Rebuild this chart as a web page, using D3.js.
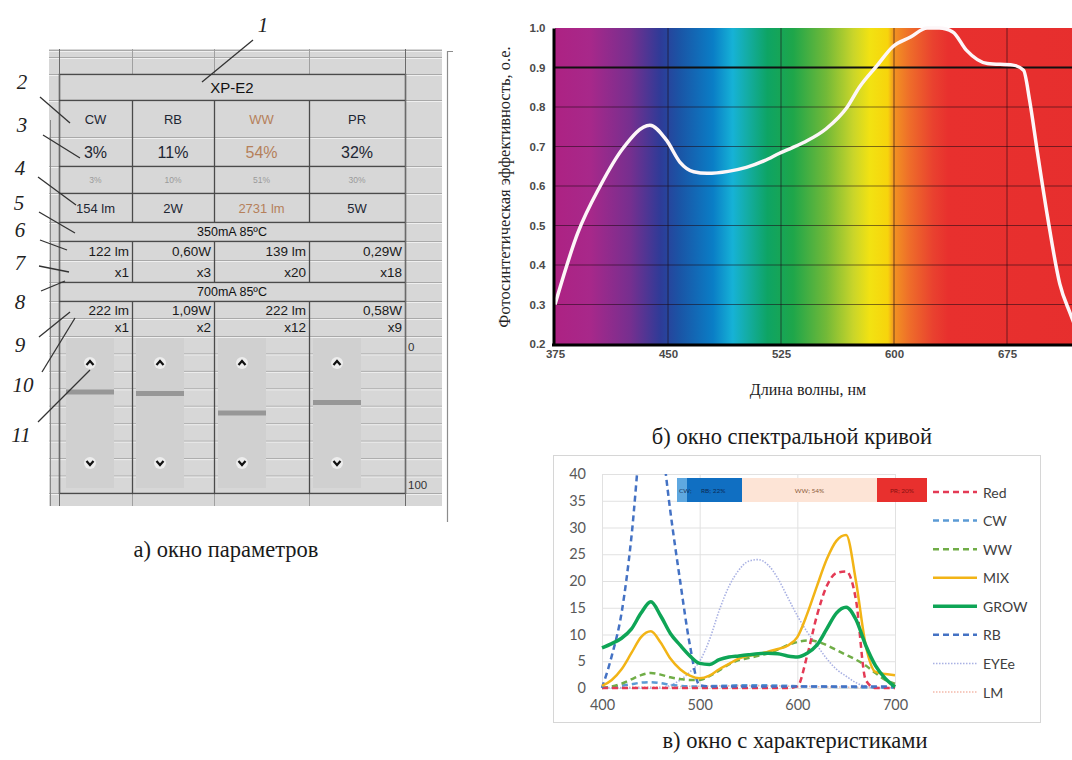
<!DOCTYPE html>
<html>
<head>
<meta charset="utf-8">
<script src="https://cdn.jsdelivr.net/npm/d3@7"></script>
<style>
  body { margin: 0; background: #fff; }
  svg { display: block; }
</style>
</head>
<body>
<div id="chart"><svg></svg></div>
<script>
// ---------- panel a: parameter window ----------
var ledNames = ["CW", "RB", "WW", "PR"];
var sharePct = ["3%", "11%", "54%", "32%"];
var shareSmall = ["3%", "10%", "51%", "30%"];
var totalOut = ["154 lm", "2W", "2731 lm", "5W"];
var mode350 = "350mA 85ºC";
var out350 = ["122 lm", "0,60W", "139 lm", "0,29W"];
var count350 = ["x1", "x3", "x20", "x18"];
var mode700 = "700mA 85ºC";
var out700 = ["222 lm", "1,09W", "222 lm", "0,58W"];
var count700 = ["x1", "x2", "x12", "x9"];
var sliderPos = [36, 37, 50, 43]; // 0..100 slider scale
var sliderTicks = ["0", "100"];
var calloutText = ["1", "2", "3", "4", "5", "6", "7", "8", "9", "10", "11"];

// ---------- panel b: spectral curve ----------
var specWl = [375, 390, 405, 420, 438, 449, 458, 467, 476, 490, 502, 514, 524, 540, 555, 569, 577, 589, 599, 611, 622, 630, 639, 648, 662, 679, 686, 690, 695, 702, 710, 717, 725];
var specVal = [0.30, 0.48, 0.60, 0.695, 0.754, 0.716, 0.66, 0.636, 0.632, 0.637, 0.647, 0.664, 0.683, 0.71, 0.745, 0.80, 0.85, 0.906, 0.952, 0.977, 1.0, 1.0, 0.99, 0.944, 0.91, 0.906, 0.893, 0.817, 0.69, 0.52, 0.353, 0.277, 0.2];
var specXTicks = [375, 450, 525, 600, 675];
var specYTicks = [0.2, 0.3, 0.4, 0.5, 0.6, 0.7, 0.8, 0.9, 1.0];
var bandWl = [375, 398, 425, 445, 458, 480, 493, 502, 516, 533, 555, 573, 584, 596, 600, 611, 626, 636, 750];
var bandColor = ["#ad2283", "#a8288a", "#762f8f", "#2e3b97", "#1a55a6", "#0a7ec6", "#16b2d6", "#14ada8", "#0ea464", "#1ea64a", "#72b938", "#c9d52a", "#f2e212", "#f7d40c", "#f29322", "#ee6b2a", "#e9412f", "#e8302e", "#e62e2e"];

// ---------- panel c: characteristics ----------
var wl = [400, 410, 420, 430, 440, 450, 460, 470, 480, 490, 500, 510, 520, 530, 540, 550, 560, 570, 580, 590, 600, 610, 620, 630, 640, 650, 660, 670, 680, 690, 700];
var redVals = [0, 0, 0, 0, 0, 0, 0, 0, 0, 0, 0, 0, 0, 0, 0, 0, 0, 0, 0, 0, 0.3, 6, 13.5, 19, 21.5, 21.8, 16.5, 1.5, 0, 0, 0];
var cwVals = [0.1, 0.2, 0.4, 0.7, 1.0, 1.1, 0.9, 0.6, 0.4, 0.3, 0.3, 0.35, 0.4, 0.45, 0.5, 0.5, 0.5, 0.5, 0.45, 0.4, 0.35, 0.3, 0.3, 0.25, 0.2, 0.2, 0.15, 0.1, 0.1, 0.05, 0.05];
var wwVals = [0, 0.3, 0.8, 1.6, 2.4, 2.8, 2.5, 2.0, 1.7, 1.5, 1.5, 2.2, 3.3, 4.4, 5.2, 5.6, 6.0, 6.5, 7.2, 8.0, 8.6, 8.9, 8.7, 8.0, 7.1, 6.2, 5.3, 4.2, 2.8, 1.5, 0.8];
var mixVals = [0.4, 1.5, 3.5, 6.5, 9.5, 10.6, 8.5, 5.5, 3.5, 2.3, 1.8, 2.3, 3.5, 4.5, 5.5, 6.0, 6.3, 6.8, 7.3, 7.9, 9.5, 13.8, 19, 24, 27.5, 28.6, 20, 8, 3, 2.6, 2.4];
var growVals = [7.5, 8.3, 9.3, 11, 14, 16.1, 13.5, 10.2, 8, 6, 4.6, 4.4, 5.3, 5.8, 6.0, 6.2, 6.4, 6.5, 6.4, 6.0, 5.8, 6.5, 8.0, 11, 14, 15.1, 12.8, 8, 4.2, 1.8, 0.2];
var rbVals = [0, 6, 14, 28, 48, 60, 48, 33, 20, 8, 0.5, 0.3, 0.3, 0.3, 0.3, 0.3, 0.3, 0.3, 0.3, 0.3, 0.3, 0.3, 0.3, 0.3, 0.3, 0.3, 0.3, 0.3, 0.3, 0.3, 0.3];
var eyeVals = [0, 0, 0, 0, 0, 0, 0, 0.5, 1.5, 3, 5, 9, 14.5, 19, 22, 23.7, 24, 23, 20.5, 17, 13.5, 10.5, 8, 5.5, 3.5, 2.2, 1, 0.3, 0, 0, 0];
var lmVals = [0.1, 0.1, 0.1, 0.15, 0.2, 0.2, 0.2, 0.2, 0.25, 0.3, 0.3, 0.35, 0.4, 0.4, 0.45, 0.45, 0.45, 0.4, 0.4, 0.35, 0.3, 0.3, 0.25, 0.2, 0.2, 0.15, 0.1, 0.1, 0.1, 0.05, 0.05];
var mixXTicks = [400, 500, 600, 700];
var mixYTicks = [0, 5, 10, 15, 20, 25, 30, 35, 40];
var barShares = [4, 22, 54, 20];
var barLabels = ["CW; 4%", "RB; 22%", "WW; 54%", "PR; 20%"];

var captions = ["а) окно параметров", "б) окно спектральной кривой", "в) окно с характеристиками"];

// ================================================================
var svg = d3.select("#chart > svg").attr("width", 1072).attr("height", 760);
svg.append("rect").attr("width", 1072).attr("height", 760).attr("fill", "#fff");

var sans = "'Liberation Sans', Arial, sans-serif";
var serif = "'Liberation Serif', 'Times New Roman', serif";

// ---------------- panel a ----------------
var gA = svg.append("g").style("font-family", sans);
var colX = [59, 132, 214, 309, 405]; // column borders
var bg = { x0: 49, x1: 442, y0: 49, y1: 506 };
var tableTop = 74, tableBottom = 493;
var rowLines = [50, 57, 74, 100, 137, 166, 193, 222, 241, 260, 282, 301, 318, 336];
var sliderTop = 336;
var sliderRow = (tableBottom - sliderTop) / 9;

gA.append("rect")
  .attr("x", bg.x0).attr("y", bg.y0)
  .attr("width", bg.x1 - bg.x0).attr("height", bg.y1 - bg.y0)
  .attr("fill", "#d7d7d7");

var allRows = rowLines.concat(d3.range(1, 10).map(function(i) { return sliderTop + i * sliderRow; }));
gA.selectAll(".hl").data(allRows).enter().append("line")
  .attr("x1", bg.x0).attr("x2", bg.x1)
  .attr("y1", function(d) { return d + 0.5; }).attr("y2", function(d) { return d + 0.5; })
  .attr("stroke", "#a9a9a9");
gA.selectAll(".hw").data(allRows).enter().append("line")
  .attr("x1", bg.x0).attr("x2", bg.x1)
  .attr("y1", function(d) { return d + 1.5; }).attr("y2", function(d) { return d + 1.5; })
  .attr("stroke", "#efefef");

// light verticals in the margins above / below the table
colX.forEach(function(x, i) {
  gA.append("line").attr("x1", x + 0.5).attr("x2", x + 0.5).attr("y1", bg.y0).attr("y2", tableTop)
    .attr("stroke", "#a0a0a0");
  gA.append("line").attr("x1", x + 0.5).attr("x2", x + 0.5).attr("y1", tableBottom).attr("y2", bg.y1)
    .attr("stroke", "#a0a0a0");
});
gA.append("line").attr("x1", 50.5).attr("x2", 50.5).attr("y1", 120).attr("y2", bg.y1).attr("stroke", "#888");

// sliders
var sliderY = d3.scaleLinear().domain([0, 100]).range([338, 488]);
var sliders = gA.selectAll(".slider").data(sliderPos).enter().append("g");
sliders.append("rect")
  .attr("x", function(d, i) { return colX[i] + (i === 0 ? 7 : 4); })
  .attr("y", sliderY(0)).attr("width", 48).attr("height", sliderY(100) - sliderY(0))
  .attr("fill", "#d0d0d0");
sliders.append("rect")
  .attr("x", function(d, i) { return colX[i] + (i === 0 ? 7 : 4); })
  .attr("y", function(d) { return sliderY(d) - 2.5; })
  .attr("width", 48).attr("height", 5)
  .attr("fill", "#979797");
[25, -25].forEach(function(off, k) {
  sliders.append("circle")
    .attr("cx", function(d, i) { return colX[i] + (i === 0 ? 7 : 4) + 24; })
    .attr("cy", off > 0 ? sliderY(0) + off : sliderY(100) + off)
    .attr("r", 6).attr("fill", "#f4f4f4").attr("opacity", 0.8);
  sliders.append("path")
    .attr("d", function(d, i) {
      var cx = colX[i] + (i === 0 ? 7 : 4) + 24;
      var cy = off > 0 ? sliderY(0) + off : sliderY(100) + off;
      var s = k === 0 ? 1 : -1;
      return "M" + (cx - 3.5) + "," + (cy + 2 * s) + "L" + cx + "," + (cy - 2 * s) + "L" + (cx + 3.5) + "," + (cy + 2 * s);
    })
    .attr("fill", "none").attr("stroke", "#111").attr("stroke-width", 2.2);
});

// table borders
gA.append("rect").attr("x", colX[0] + 0.5).attr("y", tableTop + 0.5)
  .attr("width", colX[4] - colX[0]).attr("height", tableBottom - tableTop)
  .attr("fill", "none").attr("stroke", "#4a4a4a").attr("stroke-width", 1.5);
gA.append("line").attr("x1", colX[4] + 0.5).attr("x2", colX[4] + 0.5).attr("y1", bg.y0).attr("y2", bg.y1)
  .attr("stroke", "#6a6a6a");
gA.append("line").attr("x1", colX[0] + 0.5).attr("x2", colX[0] + 0.5).attr("y1", bg.y0).attr("y2", bg.y1)
  .attr("stroke", "#6a6a6a");
[100, 166, 193, 222, 241, 282, 301].forEach(function(y) {
  gA.append("line").attr("x1", colX[0]).attr("x2", colX[4]).attr("y1", y + 0.5).attr("y2", y + 0.5)
    .attr("stroke", "#4a4a4a").attr("stroke-width", 1.3);
});
[[100, 222], [241, 282], [301, tableBottom]].forEach(function(seg) {
  colX.slice(1, 4).forEach(function(x) {
    gA.append("line").attr("x1", x + 0.5).attr("x2", x + 0.5).attr("y1", seg[0]).attr("y2", seg[1])
      .attr("stroke", "#4a4a4a").attr("stroke-width", 1.3);
  });
});

// table texts
var brown = "#b5805a", ink = "#1d2633";
function rowText(values, cy, size, align, colorFn) {
  gA.selectAll(null).data(values).enter().append("text")
    .attr("x", function(d, i) { return align === "middle" ? (colX[i] + colX[i + 1]) / 2 : colX[i + 1] - 3; })
    .attr("y", cy)
    .attr("text-anchor", align === "middle" ? "middle" : "end")
    .attr("dominant-baseline", "central")
    .style("font-size", size + "px")
    .attr("fill", function(d, i) { return colorFn(i); })
    .text(function(d) { return d; });
}
function spanText(t, cy, size) {
  gA.append("text").attr("x", (colX[0] + colX[4]) / 2).attr("y", cy)
    .attr("text-anchor", "middle").attr("dominant-baseline", "central")
    .style("font-size", size + "px").attr("fill", "#111").text(t);
}
spanText("XP-E2", 87, 15);
rowText(ledNames, 119, 13, "middle", function(i) { return i === 2 ? brown : ink; });
rowText(sharePct, 152, 16, "middle", function(i) { return i === 2 ? brown : ink; });
rowText(shareSmall, 180, 8.5, "middle", function() { return "#9a9a9a"; });
rowText(totalOut, 208, 13, "middle", function(i) { return i === 2 ? brown : ink; });
spanText(mode350, 232, 12.5);
rowText(out350, 251, 13.5, "end", function() { return "#1a1a1a"; });
rowText(count350, 272, 13.5, "end", function() { return "#1a1a1a"; });
spanText(mode700, 291.5, 12.5);
rowText(out700, 310, 13.5, "end", function() { return "#1a1a1a"; });
rowText(count700, 327, 13.5, "end", function() { return "#1a1a1a"; });

gA.selectAll(".stick").data(sliderTicks).enter().append("text")
  .attr("x", 408).attr("y", function(d) { return sliderY(+d) + (+d === 0 ? 9 : -3); })
  .attr("dominant-baseline", "central")
  .style("font-size", "11.5px").attr("fill", "#333")
  .text(function(d) { return d; });

// right bracket
gA.append("path").attr("d", "M453,51.5H447.5V522")
  .attr("fill", "none").attr("stroke", "#8c8c8c").attr("stroke-width", 1.2);

// callouts
var calloutLayout = [
  { tx: 263, ty: 25, x1: 253, y1: 40, x2: 202, y2: 82 },
  { tx: 22, ty: 82, x1: 40, y1: 97, x2: 70, y2: 123 },
  { tx: 22, ty: 125, x1: 43, y1: 135, x2: 80, y2: 158 },
  { tx: 20, ty: 168, x1: 38, y1: 177, x2: 76, y2: 205 },
  { tx: 19, ty: 203, x1: 39, y1: 212, x2: 75, y2: 233 },
  { tx: 20, ty: 230, x1: 40, y1: 240, x2: 67, y2: 250 },
  { tx: 20, ty: 263, x1: 39, y1: 266, x2: 69, y2: 272 },
  { tx: 20, ty: 302, x1: 41, y1: 291, x2: 65, y2: 281 },
  { tx: 20, ty: 345, x1: 39, y1: 337, x2: 70, y2: 312 },
  { tx: 23, ty: 385, x1: 42, y1: 372, x2: 75, y2: 318 },
  { tx: 21, ty: 435, x1: 38, y1: 422, x2: 90, y2: 370 }
];
var callouts = gA.selectAll(".callout").data(calloutText).enter().append("g");
callouts.append("line")
  .attr("x1", function(d, i) { return calloutLayout[i].x1; })
  .attr("y1", function(d, i) { return calloutLayout[i].y1; })
  .attr("x2", function(d, i) { return calloutLayout[i].x2; })
  .attr("y2", function(d, i) { return calloutLayout[i].y2; })
  .attr("stroke", "#333").attr("stroke-width", 1.3);
callouts.append("text")
  .attr("x", function(d, i) { return calloutLayout[i].tx; })
  .attr("y", function(d, i) { return calloutLayout[i].ty; })
  .attr("text-anchor", "middle").attr("dominant-baseline", "central")
  .style("font-family", serif).style("font-style", "italic").style("font-size", "21px")
  .attr("fill", "#222")
  .text(function(d) { return d; });

// ---------------- panel b ----------------
var gB = svg.append("g");
var sx = d3.scaleLinear().domain([375, 750]).range([555, 1120]);
var sy = d3.scaleLinear().domain([0.2, 1.0]).range([344, 28]);
var plotRight = 1072;

var grad = svg.append("defs").append("linearGradient")
  .attr("id", "spectrum").attr("gradientUnits", "userSpaceOnUse")
  .attr("x1", sx(375)).attr("x2", sx(750)).attr("y1", 0).attr("y2", 0);
grad.selectAll("stop").data(bandWl).enter().append("stop")
  .attr("offset", function(d) { return (d - 375) / (750 - 375); })
  .attr("stop-color", function(d, i) { return bandColor[i]; });

svg.select("defs").append("clipPath").attr("id", "specClip").append("rect")
  .attr("x", sx(375)).attr("y", sy(1.0) - 2).attr("width", plotRight - sx(375)).attr("height", sy(0.2) - sy(1.0) + 2);

gB.append("rect")
  .attr("x", sx(375)).attr("y", sy(1.0))
  .attr("width", plotRight - sx(375)).attr("height", sy(0.2) - sy(1.0))
  .attr("fill", "url(#spectrum)");

gB.selectAll(".sgh").data(specYTicks.filter(function(d) { return d > 0.2 && d < 1.0; })).enter().append("line")
  .attr("x1", sx(375)).attr("x2", plotRight)
  .attr("y1", function(d) { return sy(d); }).attr("y2", function(d) { return sy(d); })
  .attr("stroke", function(d) { return d === 0.9 ? "#111" : "rgba(30,10,20,0.55)"; })
  .attr("stroke-width", function(d) { return d === 0.9 ? 1.8 : 1; });
gB.selectAll(".sgv").data(specXTicks.slice(1)).enter().append("line")
  .attr("x1", function(d) { return sx(d); }).attr("x2", function(d) { return sx(d); })
  .attr("y1", sy(1.0)).attr("y2", sy(0.2))
  .attr("stroke", "rgba(30,10,20,0.6)").attr("stroke-width", 1);

var specPts = specWl.map(function(w, i) { return { w: w, v: specVal[i] }; });
gB.append("path")
  .datum(specPts)
  .attr("clip-path", "url(#specClip)")
  .attr("fill", "none")
  .attr("stroke", "#fdf6f8")
  .attr("stroke-width", 3.5)
  .attr("d", d3.line().curve(d3.curveMonotoneX)
    .x(function(d) { return sx(d.w); })
    .y(function(d) { return sy(d.v); }));

var yAxB = gB.append("g").attr("transform", "translate(553.5,0)")
  .call(d3.axisLeft(sy).tickValues(specYTicks).tickFormat(d3.format(".1f")).tickSize(0).tickPadding(8));
yAxB.select(".domain").attr("stroke", "#000").attr("stroke-width", 3);
var xAxB = gB.append("g").attr("transform", "translate(0,345)")
  .call(d3.axisBottom(sx).tickValues(specXTicks).tickSize(0).tickPadding(5));
xAxB.select(".domain").attr("stroke", "#000").attr("stroke-width", 3).attr("d", "M552," + 0 + "H" + plotRight);
gB.selectAll(".tick text")
  .style("font-family", sans).style("font-weight", "bold").style("font-size", "11.5px").attr("fill", "#4a4a4a");

gB.append("text")
  .attr("transform", "translate(510,187) rotate(-90)")
  .attr("text-anchor", "middle")
  .style("font-family", serif).style("font-size", "16.5px").attr("fill", "#222")
  .text("Фотосинтетическая эффективность, о.е.");
gB.append("text")
  .attr("x", 808).attr("y", 395).attr("text-anchor", "middle")
  .style("font-family", serif).style("font-size", "16px").attr("fill", "#222")
  .text("Длина волны, нм");

// ---------------- panel c ----------------
var gC = svg.append("g").style("font-family", "Lato, 'Open Sans', sans-serif");
var ex = d3.scaleLinear().domain([400, 700]).range([602, 895]);
var ey = d3.scaleLinear().domain([0, 40]).range([688, 474]);

gC.append("rect").attr("x", 553.5).attr("y", 455.5).attr("width", 487).attr("height", 267)
  .attr("fill", "#fff").attr("stroke", "#d6d6d6");

gC.selectAll(".cgh").data(mixYTicks).enter().append("line")
  .attr("x1", ex(400)).attr("x2", ex(700))
  .attr("y1", function(d) { return ey(d) + 0.5; }).attr("y2", function(d) { return ey(d) + 0.5; })
  .attr("stroke", "#e1e1e1");
gC.selectAll(".cgv").data(mixXTicks).enter().append("line")
  .attr("x1", function(d) { return ex(d) + 0.5; }).attr("x2", function(d) { return ex(d) + 0.5; })
  .attr("y1", ey(40)).attr("y2", ey(0))
  .attr("stroke", "#e1e1e1");

var yAxC = gC.append("g").attr("transform", "translate(" + ex(400) + ",0)")
  .call(d3.axisLeft(ey).tickValues(mixYTicks).tickSize(0).tickPadding(16));
var xAxC = gC.append("g").attr("transform", "translate(0," + ey(0) + ")")
  .call(d3.axisBottom(ex).tickValues(mixXTicks).tickSize(0).tickPadding(12));
gC.selectAll(".domain").remove();
gC.selectAll(".tick text").style("font-family", "Lato, 'Open Sans', sans-serif").style("font-size", "14.5px").attr("fill", "#595959");

svg.select("defs").append("clipPath").attr("id", "mixClip").append("rect")
  .attr("x", ex(400) - 2).attr("y", ey(40)).attr("width", ex(700) - ex(400) + 4).attr("height", ey(0) - ey(40) + 4);

var series = [
  { name: "Red", vals: redVals, color: "#e43a55", width: 2.5, dash: "6,4" },
  { name: "CW", vals: cwVals, color: "#5b9bd5", width: 2.5, dash: "6,4" },
  { name: "WW", vals: wwVals, color: "#70ad47", width: 2.5, dash: "6,4" },
  { name: "MIX", vals: mixVals, color: "#f2b416", width: 2.5, dash: null },
  { name: "GROW", vals: growVals, color: "#0ea556", width: 3.5, dash: null },
  { name: "RB", vals: rbVals, color: "#4472c4", width: 2.5, dash: "6,4" },
  { name: "EYEe", vals: eyeVals, color: "#a9b1e3", width: 1.6, dash: "1.5,1.5" },
  { name: "LM", vals: lmVals, color: "#f3b9aa", width: 1.6, dash: "1.5,1.5" }
];
var drawOrder = ["LM", "EYEe", "CW", "WW", "Red", "RB", "MIX", "GROW"];
var mixLine = d3.line().curve(d3.curveMonotoneX)
  .x(function(d) { return ex(d.w); })
  .y(function(d) { return ey(d.v); });

gC.append("g").attr("clip-path", "url(#mixClip)")
  .selectAll("path")
  .data(drawOrder.map(function(n) { return series.find(function(s) { return s.name === n; }); }))
  .enter().append("path")
  .attr("fill", "none")
  .attr("stroke", function(d) { return d.color; })
  .attr("stroke-width", function(d) { return d.width; })
  .attr("stroke-dasharray", function(d) { return d.dash; })
  .attr("stroke-linejoin", "round")
  .attr("d", function(d) { return mixLine(wl.map(function(w, i) { return { w: w, v: d.vals[i] }; })); });

// share bar
var bx = d3.scaleLinear().domain([0, 100]).range([677, 927]);
var barColor = ["#5fa8e0", "#106fc2", "#fde4d6", "#e8302e"];
var barText = ["#16335a", "#0b2a55", "#8a5a38", "#8a1010"];
var cum = d3.cumsum(barShares);
var segs = barShares.map(function(v, i) { return { v: v, start: cum[i] - v, label: barLabels[i] }; });
gC.selectAll(".seg").data(segs).enter().append("rect")
  .attr("x", function(d) { return bx(d.start); })
  .attr("y", 478).attr("height", 24)
  .attr("width", function(d) { return bx(d.start + d.v) - bx(d.start); })
  .attr("fill", function(d, i) { return barColor[i]; });
gC.selectAll(".segt").data(segs).enter().append("text")
  .attr("x", function(d, i) { return i === 0 ? bx(d.start) + 2 : (i === 1 ? bx(d.start) + 14 : (bx(d.start) + bx(d.start + d.v)) / 2); })
  .attr("y", 490)
  .attr("text-anchor", function(d, i) { return i < 2 ? "start" : "middle"; })
  .attr("dominant-baseline", "central")
  .style("font-size", "6.5px")
  .attr("fill", function(d, i) { return barText[i]; })
  .text(function(d, i) { return i === 0 ? "CW;" : d.label; });

// legend
var ly = d3.scalePoint().domain(series.map(function(s) { return s.name; })).range([492, 692]);
var leg = gC.selectAll(".leg").data(series).enter().append("g")
  .attr("transform", function(d) { return "translate(933," + ly(d.name) + ")"; });
leg.append("line").attr("x1", 0).attr("x2", 44)
  .attr("stroke", function(d) { return d.color; })
  .attr("stroke-width", function(d) { return d.width; })
  .attr("stroke-dasharray", function(d) { return d.dash; });
leg.append("text").attr("x", 50).attr("dominant-baseline", "central")
  .style("font-size", "14px").attr("fill", "#404040")
  .text(function(d) { return d.name; });

// ---------------- captions ----------------
var capPos = [{ x: 226, y: 557 }, { x: 792, y: 444 }, { x: 795, y: 748 }];
svg.selectAll(".cap").data(captions).enter().append("text")
  .attr("x", function(d, i) { return capPos[i].x; })
  .attr("y", function(d, i) { return capPos[i].y; })
  .attr("text-anchor", "middle")
  .style("font-family", serif).style("font-size", "22.5px").attr("fill", "#1a1a1a")
  .text(function(d) { return d; });
</script>
</body>
</html>
